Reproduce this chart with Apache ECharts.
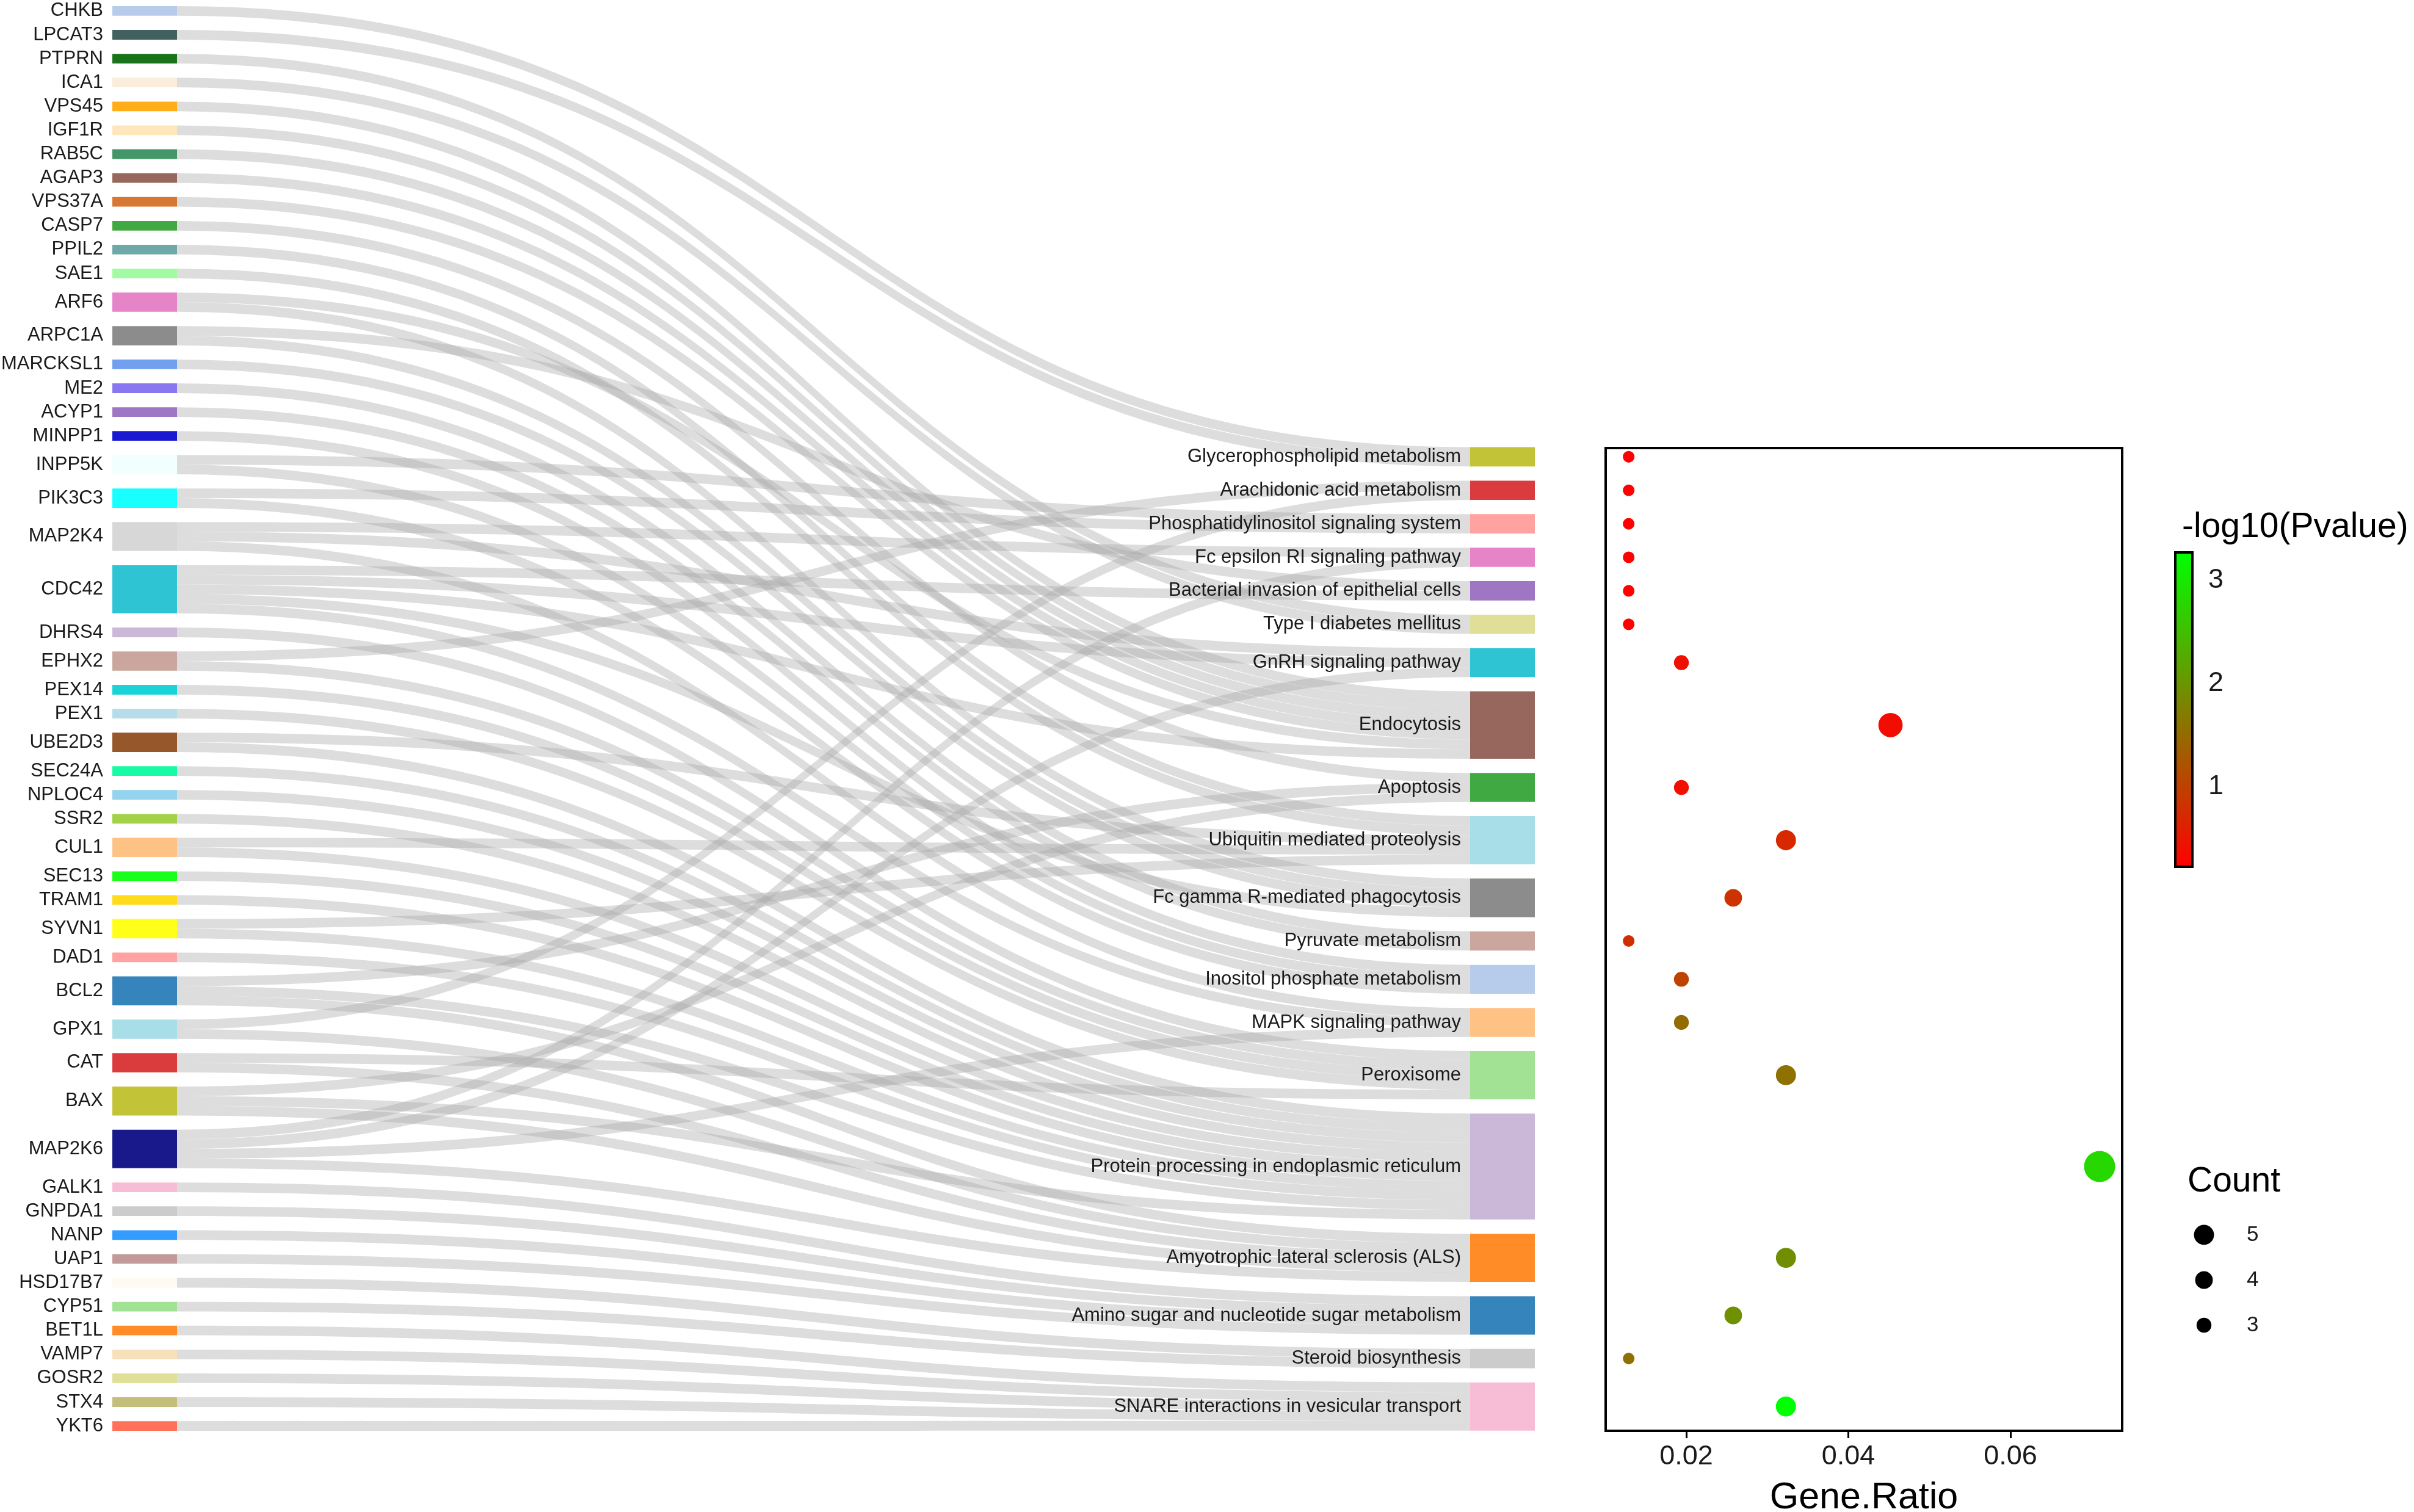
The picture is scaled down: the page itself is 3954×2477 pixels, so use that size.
<!DOCTYPE html>
<html><head><meta charset="utf-8">
<script src="https://cdn.jsdelivr.net/npm/echarts@6/dist/echarts.min.js"></script>
<style>html,body{margin:0;padding:0;background:#fff}#c{width:3954px;height:2477px}</style>
</head><body><div id="c"></div><script>
// ---------- data ----------
const genes = ['CHKB','LPCAT3','PTPRN','ICA1','VPS45','IGF1R','RAB5C','AGAP3','VPS37A','CASP7','PPIL2','SAE1',
  'ARF6','ARPC1A','MARCKSL1','ME2','ACYP1','MINPP1','INPP5K','PIK3C3','MAP2K4','CDC42','DHRS4','EPHX2','PEX14',
  'PEX1','UBE2D3','SEC24A','NPLOC4','SSR2','CUL1','SEC13','TRAM1','SYVN1','DAD1','BCL2','GPX1','CAT','BAX','MAP2K6',
  'GALK1','GNPDA1','NANP','UAP1','HSD17B7','CYP51','BET1L','VAMP7','GOSR2','STX4','YKT6'];
const geneColors = ['#aec7e8','#2f4f4f','#006400','#faebd7','#ffa500','#ffe4b5','#2e8b57','#8c564b','#d2691e','#2ca02c','#5f9ea0','#98fb98',
  '#e377c2','#7f7f7f','#6495ed','#7b68ee','#9467bd','#0000cd','#f0ffff','#00ffff','#d3d3d3','#17becf','#c5b0d5','#c49c94','#00ced1',
  '#add8e6','#8b4513','#00fa9a','#87ceeb','#9acd32','#ffbb78','#00ff00','#ffd700','#ffff00','#ff9896','#1f77b4','#9edae5','#d62728','#bcbd22','#000080',
  '#f7b6d2','#c7c7c7','#1e90ff','#bc8f8f','#fffaf0','#98df8a','#ff7f0e','#f5deb3','#dbdb8d','#bdb76b','#ff6347'];
const pathways = ['Glycerophospholipid metabolism','Arachidonic acid metabolism','Phosphatidylinositol signaling system',
  'Fc epsilon RI signaling pathway','Bacterial invasion of epithelial cells','Type I diabetes mellitus','GnRH signaling pathway',
  'Endocytosis','Apoptosis','Ubiquitin mediated proteolysis','Fc gamma R-mediated phagocytosis','Pyruvate metabolism',
  'Inositol phosphate metabolism','MAPK signaling pathway','Peroxisome','Protein processing in endoplasmic reticulum',
  'Amyotrophic lateral sclerosis (ALS)','Amino sugar and nucleotide sugar metabolism','Steroid biosynthesis',
  'SNARE interactions in vesicular transport'];
const pathwayColors = ['#bcbd22','#d62728','#ff9896','#e377c2','#9467bd','#dbdb8d','#17becf','#8c564b','#2ca02c','#9edae5',
  '#7f7f7f','#c49c94','#aec7e8','#ffbb78','#98df8a','#c5b0d5','#ff7f0e','#1f77b4','#c7c7c7','#f7b6d2'];
const memberGenes = [
  ['CHKB','LPCAT3'],
  ['EPHX2','GPX1'],
  ['INPP5K','PIK3C3'],
  ['MAP2K4','MAP2K6'],
  ['ARPC1A','CDC42'],
  ['PTPRN','ICA1'],
  ['MAP2K4','CDC42','MAP2K6'],
  ['VPS45','IGF1R','RAB5C','AGAP3','VPS37A','ARF6','CDC42'],
  ['CASP7','BCL2','BAX'],
  ['PPIL2','SAE1','UBE2D3','CUL1','SYVN1'],
  ['ARF6','ARPC1A','MARCKSL1','CDC42'],
  ['ME2','ACYP1'],
  ['MINPP1','INPP5K','PIK3C3'],
  ['MAP2K4','CDC42','MAP2K6'],
  ['DHRS4','EPHX2','PEX14','PEX1','CAT'],
  ['UBE2D3','SEC24A','NPLOC4','SSR2','CUL1','SEC13','TRAM1','SYVN1','DAD1','BCL2','BAX'],
  ['BCL2','GPX1','CAT','BAX','MAP2K6'],
  ['GALK1','GNPDA1','NANP','UAP1'],
  ['HSD17B7','CYP51'],
  ['BET1L','VAMP7','GOSR2','STX4','YKT6']
];
const geneRatio = [0.0129,0.0129,0.0129,0.0129,0.0129,0.0129,0.0194,0.0452,0.0194,0.0323,0.0258,0.0129,0.0194,0.0194,0.0323,0.0710,0.0323,0.0258,0.0129,0.0323];
const geneCount = [2,2,2,2,2,2,3,7,3,5,4,2,3,3,5,11,5,4,2,5];
const negLog10P = [0.23,0.24,0.25,0.25,0.24,0.26,0.40,0.38,0.41,0.70,0.83,0.78,1.02,1.52,1.58,2.80,1.92,1.95,1.57,3.27];
const pRange = [0.225, 3.27];
const ratioTicks = [0.02, 0.04, 0.06];
const pTicks = [1, 2, 3];
const countLegend = ['5','4','3'];

// ---------- layout constants ----------
const FONT = '"Liberation Sans", Arial, Helvetica, sans-serif';
const SK_LEFT = 184, SK_TOP = 10, SK_W = 2330, SK_H = 2334, GAP = 23.32, NODE_W = 106;
const totalLinks = memberGenes.reduce((s, a) => s + a.length, 0);
const ky = (SK_H - (genes.length - 1) * GAP) / totalLinks;
const padValue = ((SK_H - pathways.length * GAP) / ky - totalLinks) * 0.9995;

const nodes = [];
genes.forEach((g, i) => nodes.push({name: g, itemStyle: {color: geneColors[i], opacity: 0.9}}));
nodes.push({name: '__pad__', depth: 1, value: padValue, itemStyle: {color: 'rgba(0,0,0,0)', opacity: 0}, label: {show: false}});
pathways.forEach((p, i) => nodes.push({name: p, depth: 1, itemStyle: {color: pathwayColors[i], opacity: 0.9}}));
const links = [];
memberGenes.forEach((arr, i) => arr.forEach(g => links.push({source: g, target: pathways[i], value: 1})));

// pathway centres (same arithmetic as the sankey column)
const centers = [];
let y0 = SK_TOP + padValue * ky + GAP;
geneCount.forEach(c => { centers.push(y0 + c * ky / 2); y0 += c * ky + GAP; });

const sizeFn = c => -4.7 + 16.8 * Math.sqrt(c);
const GRID = {left: 2630, top: 734, width: 846, height: 1610};

const dots = pathways.map((p, i) => ({name: p, value: [geneRatio[i], centers[i], negLog10P[i], geneCount[i]]}));

const chart = echarts.init(document.getElementById('c'), null, {renderer: 'canvas'});
chart.setOption({
  animation: false,
  backgroundColor: '#fff',
  textStyle: {fontFamily: FONT},
  title: [
    {text: '-log10(Pvalue)', left: 3574, top: 836, padding: 0, textStyle: {fontSize: 57, fontWeight: 'normal', color: '#000', fontFamily: FONT}},
    {text: 'Count', left: 3583, top: 1908, padding: 0, textStyle: {fontSize: 57, fontWeight: 'normal', color: '#000', fontFamily: FONT}}
  ],
  grid: [
    {left: GRID.left, top: GRID.top, width: GRID.width, height: GRID.height, show: true, borderColor: '#000', borderWidth: 4,
     backgroundColor: 'transparent', z: 5, outerBoundsMode: 'none', containLabel: false},
    {left: 3563, top: 905, width: 28, height: 515, show: true, borderColor: '#000', borderWidth: 4,
     backgroundColor: 'transparent', z: 10, outerBoundsMode: 'none', containLabel: false},
    {left: 3590, top: 1986, width: 40, height: 222, show: false, outerBoundsMode: 'none', containLabel: false}
  ],
  xAxis: [
    {gridIndex: 0, type: 'value', min: 0.01006, max: 0.07378,
     axisLine: {show: false}, splitLine: {show: false},
     axisTick: {show: true, customValues: ratioTicks, length: 12, lineStyle: {color: '#000', width: 3}},
     axisLabel: {customValues: ratioTicks, fontSize: 45, color: '#1a1a1a', margin: 20, fontFamily: FONT},
     name: 'Gene.Ratio', nameLocation: 'middle', nameGap: 80,
     nameTextStyle: {fontSize: 61, color: '#000', fontFamily: FONT}},
    {gridIndex: 1, type: 'value', show: false, min: 0, max: 1},
    {gridIndex: 2, type: 'value', show: false, min: -1, max: 1}
  ],
  yAxis: [
    {gridIndex: 0, type: 'value', show: false, min: GRID.top, max: GRID.top + GRID.height, inverse: true},
    {gridIndex: 1, type: 'value', position: 'right', min: pRange[0], max: pRange[1],
     axisLine: {show: false}, splitLine: {show: false},
     axisTick: {show: true, customValues: pTicks, length: 13, lineStyle: {color: '#000', width: 3}},
     axisLabel: {customValues: pTicks, fontSize: 45, color: '#1a1a1a', margin: 26, fontFamily: FONT}},
    {gridIndex: 2, type: 'category', data: countLegend, inverse: true, position: 'right',
     axisLine: {show: false}, axisTick: {show: false}, splitLine: {show: false},
     axisLabel: {fontSize: 35, color: '#1a1a1a', margin: 50, fontFamily: FONT}}
  ],
  visualMap: {
    type: 'continuous', seriesIndex: 1, dimension: 2, min: pRange[0], max: pRange[1],
    inRange: {color: ['#ff0000', '#00ff00']},
    left: 3563, top: 905, itemWidth: 28, itemHeight: 515, padding: 0,
    calculable: false, text: null, showLabel: false, hoverLink: false,
    orient: 'vertical'
  },
  series: [
    {
      type: 'sankey', left: SK_LEFT, top: SK_TOP, width: SK_W, height: SK_H,
      nodeWidth: NODE_W, nodeGap: GAP, layoutIterations: 0, draggable: false,
      emphasis: {disabled: true},
      label: {position: 'left', distance: 15, fontSize: 31, color: '#1a1a1a', fontFamily: FONT},
      lineStyle: {color: '#ababab', opacity: 0.4, curveness: 0.5},
      itemStyle: {borderWidth: 0},
      data: nodes, links: links
    },
    {
      type: 'scatter', xAxisIndex: 0, yAxisIndex: 0, z: 3,
      symbolSize: v => sizeFn(v[3]),
      itemStyle: {opacity: 1},
      data: dots
    },
    {
      type: 'scatter', xAxisIndex: 2, yAxisIndex: 2,
      symbolSize: v => sizeFn(+v[1]),
      itemStyle: {color: '#000', opacity: 1},
      data: countLegend.map(c => [0, c])
    }
  ]
});
</script></body></html>
